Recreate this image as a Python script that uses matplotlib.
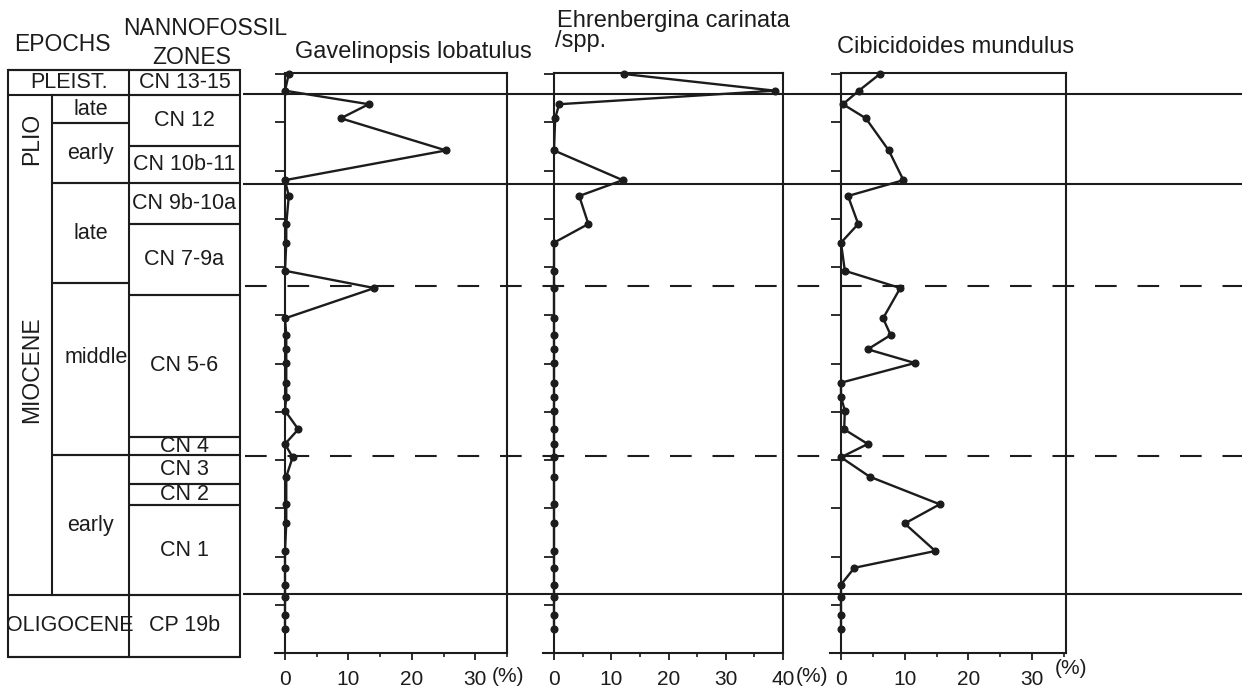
import matplotlib
matplotlib.use('Agg')
import matplotlib.pyplot as plt
from matplotlib.ticker import MultipleLocator

plt.rcParams['font.family'] = ['Liberation Sans', 'DejaVu Sans']

# ---------------- data ----------------
depth = [0, 17.3, 31.3, 45.9, 79.2, 110.0, 126.4, 155.4, 174.8, 203.9,
         221.8, 253.2, 270.5, 285.3, 299.5, 319.9, 334.4, 348.9, 368.2, 383.4,
         397.2, 417.3, 445.9, 465.8, 494.3, 511.7, 529.1, 542.3, 560.7, 575.5]

gavelinopsis = [0.6, 0, 13.2, 8.8, 25.4, 0, 0.6, 0.2, 0.2, 0,
                14.1, 0, 0.2, 0.2, 0.2, 0.2, 0.2, 0, 2.1, 0,
                1.2, 0.2, 0.2, 0.2, 0, 0, 0, 0, 0, 0]

ehrenbergina = [12.2, 38.6, 0.9, 0.2, 0, 12.0, 4.4, 6.0, 0, 0,
                0, 0, 0, 0, 0, 0, 0, 0, 0, 0,
                0, 0, 0, 0, 0, 0, 0, 0, 0, 0]

cibicidoides = [6.1, 2.8, 0.3, 3.9, 7.5, 9.8, 1.1, 2.7, 0, 0.6,
                9.3, 6.6, 7.8, 4.2, 11.6, 0, 0, 0.6, 0.5, 4.2,
                0, 4.5, 15.5, 10.0, 14.8, 2.1, 0, 0, 0, 0]

panel_titles = ["Gavelinopsis lobatulus", "Ehrenbergina carinata\n/spp.", "Cibicidoides mundulus"]
panel_xmax = [35, 40, 35.3]
panel_xticks = [[0, 10, 20, 30], [0, 10, 20, 30, 40], [0, 10, 20, 30]]

solid_bounds = [20.7, 114.0, 539.0]
dashed_bounds = [219.7, 396.0]

col_top, col_bottom = -4.1, 604.0
wide_epochs = [("PLEIST.", -4.1, 21.8), ("OLIGOCENE", 540.0, 604.0)]
narrow_epochs = [("PLIO", 21.8, 113.0), ("MIOCENE", 113.0, 540.0)]
sub_epochs = [("late", 21.8, 50.8), ("early", 50.8, 113.0), ("late", 113.0, 216.6),
              ("middle", 216.6, 395.0), ("early", 395.0, 540.0)]
zones = [("CN 13-15", -4.1, 21.8), ("CN 12", 21.8, 74.6), ("CN 10b-11", 74.6, 113.0),
         ("CN 9b-10a", 113.0, 155.4), ("CN 7-9a", 155.4, 229.0), ("CN 5-6", 229.0, 376.0),
         ("CN 4", 376.0, 395.0), ("CN 3", 395.0, 425.0), ("CN 2", 425.0, 446.6),
         ("CN 1", 446.6, 540.0), ("CP 19b", 540.0, 604.0)]

# ---------------- layout ----------------
W, H = 1242, 691
YTOP, YBOT = -1.04, 600.0
PY_TOP, PY_BOT = 73, 653
INK = '#1c1c1c'

fig = plt.figure(figsize=(W / 100, H / 100), dpi=100)
fig.patch.set_facecolor('white')

def fx(px):
    return px / W

def fy(py):
    return 1 - py / H

ax_h = (PY_BOT - PY_TOP) / H

# overlay in depth units for the column and horizontal boundaries
ov = fig.add_axes([0, fy(PY_BOT), 1, ax_h], zorder=0)
ov.set_xlim(0, W)
ov.set_ylim(YBOT, YTOP)
ov.axis('off')

LW = 1.5
X0, X1, X2, X3 = 8, 52, 129, 240

def hline(y, xa, xb, **kw):
    ov.plot([xa, xb], [y, y], color=INK, lw=kw.pop('lw', LW), clip_on=False,
            solid_capstyle='butt', **kw)

def vline(x, ya, yb):
    ov.plot([x, x], [ya, yb], color=INK, lw=LW, clip_on=False)

# outer box
hline(col_top, X0, X3)
hline(col_bottom, X0, X3)
vline(X0, col_top, col_bottom)
vline(X3, col_top, col_bottom)
vline(X2, col_top, col_bottom)

col_fs = 15.5
for name, a, b in wide_epochs:
    hline(a, X0, X2)
    hline(b, X0, X2)
    ov.text((X0 + X2) / 2 + 1, (a + b) / 2, name, ha='center', va='center',
            fontsize=col_fs, color=INK, clip_on=False)
for name, a, b in narrow_epochs:
    vline(X1, a, b)
    ov.text((X0 + X1) / 2 + 2, (a + b) / 2 - (20 if name == "MIOCENE" else 0), name,
            ha='center', va='center', rotation=90, fontsize=16.5, color=INK, clip_on=False)
for name, a, b in sub_epochs:
    hline(a, X1, X2)
    hline(b, X1, X2)
    ov.text((X1 + X2) / 2 + (6 if name == "middle" else 0), (a + b) / 2 - (12 if name == "middle" else 0),
            name, ha='center', va='center', fontsize=col_fs, color=INK, clip_on=False)
for name, a, b in zones:
    hline(a, X2, X3)
    hline(b, X2, X3)
    ov.text((X2 + X3) / 2, (a + b) / 2, name, ha='center', va='center',
            fontsize=col_fs, color=INK, clip_on=False)

# horizontal boundaries across panels
for y in solid_bounds:
    hline(y, 243, W + 5)
for y in dashed_bounds:
    ov.plot([245, W + 5], [y, y], color=INK, lw=LW, clip_on=False,
            linestyle=(0, (10.4, 10)))

# headers
fig.text(fx(62), fy(51), "EPOCHS", ha='center', va='baseline', fontsize=16.5, color=INK)
fig.text(fx(205), fy(35), "NANNOFOSSIL", ha='center', va='baseline', fontsize=16.5, color=INK)
fig.text(fx(192), fy(64), "ZONES", ha='center', va='baseline', fontsize=16.5, color=INK)

# ---------------- panels ----------------
panel_px = [  # (left px, px per %, xmin)
    (285, 6.34, -1.5),
    (554, 5.725, -2.0),
    (841, 6.37, -1.7),
]
series = [gavelinopsis, ehrenbergina, cibicidoides]
pct_pos = [(32.6, -0.04), (42.3, -0.04), (33.6, -0.026)]

for i, vals in enumerate(series):
    zero_px, scale, xmin = panel_px[i]
    xmax = panel_xmax[i]
    left = zero_px + xmin * scale
    width = (xmax - xmin) * scale
    ax = fig.add_axes([fx(left), fy(PY_BOT), fx(width), ax_h], zorder=2)
    ax.patch.set_alpha(0)
    ax.set_xlim(xmin, xmax)
    ax.set_ylim(YBOT, YTOP)
    ax.plot(vals, depth, color=INK, lw=1.7, marker='o', ms=4.8, mfc=INK, mec=INK,
            clip_on=False, zorder=3)
    for s in ax.spines.values():
        s.set_linewidth(LW)
        s.set_color(INK)
    ax.spines['left'].set_position(('data', 0))
    ax.spines['top'].set_bounds(0, xmax)
    ax.set_xticks(panel_xticks[i])
    ax.xaxis.set_minor_locator(MultipleLocator(5))
    ax.set_yticks(range(0, 601, 50))
    ax.tick_params(axis='y', which='both', direction='out', length=7, width=1.3,
                   labelleft=False, color=INK)
    ax.tick_params(axis='x', which='major', direction='out', length=5, width=1.3,
                   labelsize=15, pad=7, color=INK, labelcolor=INK)
    ax.tick_params(axis='x', which='minor', direction='out', length=3, width=1.2, color=INK)
    ax.text(pct_pos[i][0], pct_pos[i][1], "(%)", transform=ax.get_xaxis_transform(),
            ha='left', va='center', fontsize=15, color=INK, clip_on=False)

# titles
fig.text(fx(295), fy(58), panel_titles[0], ha='left', va='baseline', fontsize=17, color=INK)
t2a, t2b = panel_titles[1].split("\n")
fig.text(fx(557), fy(27), t2a, ha='left', va='baseline', fontsize=17, color=INK)
fig.text(fx(555), fy(47), t2b, ha='left', va='baseline', fontsize=17, color=INK)
fig.text(fx(837), fy(53), panel_titles[2], ha='left', va='baseline', fontsize=17, color=INK)

fig.savefig('out.png', dpi=100, facecolor='white')
